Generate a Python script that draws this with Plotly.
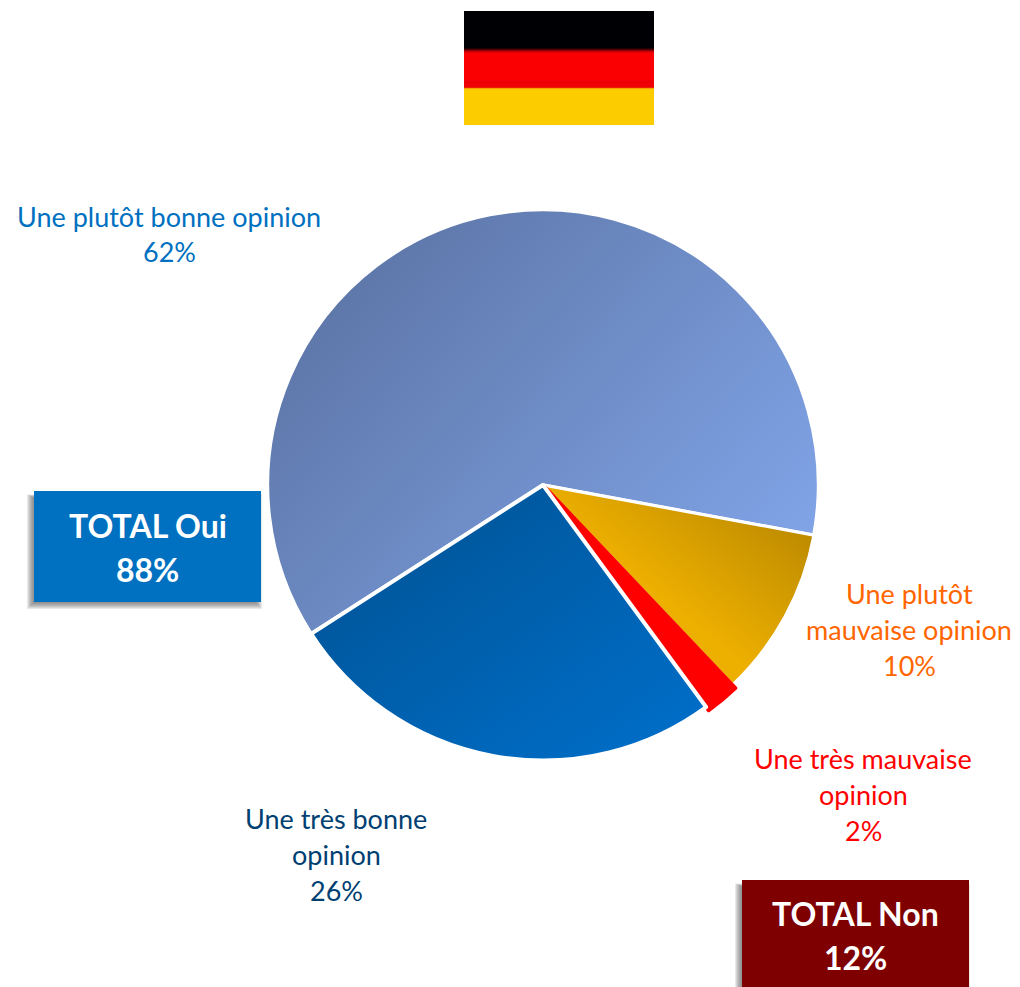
import plotly.graph_objects as go

W, H = 1020, 987
categories = ["Une plutôt bonne opinion", "Une plutôt mauvaise opinion", "Une très mauvaise opinion", "Une très bonne opinion"]
values = [62, 10, 2, 26]
colors = ["#6f8fcf", "#dca000", "#ff0000", "#0063b4"]
line_colors = ["#ffffff", "#ffffff", "#ff0000", "#ffffff"]
line_widths = [3.5, 3, 4, 4]
pulls = [0, 0, 0.015, 0]

label_lines = [
    ["Une plutôt bonne opinion", "62%"],
    ["Une plutôt", "mauvaise opinion", "10%"],
    ["Une très mauvaise", "opinion", "2%"],
    ["Une très bonne", "opinion", "26%"],
]
label_colors = ["#0070c0", "#ff6600", "#ff0000", "#003f72"]
label_x = [169, 909, 863, 336]
label_y = [216, 593, 758, 818]

box_lines = [["TOTAL Oui", "88%"], ["TOTAL Non", "12%"]]
box_colors = ["#0070c0", "#7f0000"]
box_rect = [(34, 491, 261, 602), (742, 880, 969, 1000)]
box_text_y = [525, 913]

FONT = "Lato, Carlito, Calibri, sans-serif"
CX, CY, R = 543, 485, 275.5
half = R * (1 + max(pulls))

def px(x): return x / W
def py(y): return 1 - y / H

fig = go.Figure(go.Pie(
    labels=categories, values=values, sort=False, direction="clockwise", rotation=237.3,
    pull=pulls, textinfo="none", hoverinfo="label+percent",
    marker=dict(colors=colors, line=dict(color=line_colors, width=line_widths)),
    domain=dict(x=[px(CX - half), px(CX + half)], y=[py(CY + half), py(CY - half)]),
    showlegend=False,
))

shapes, ann = [], []
def rect(x0, y0, x1, y1, color, opacity=1):
    shapes.append(dict(type="rect", xref="paper", yref="paper", x0=px(x0), x1=px(x1),
                       y0=py(y1), y1=py(y0), fillcolor=color, opacity=opacity, line_width=0))

def text(s, x, y, color, size, bold=False):
    ann.append(dict(text=f"<b>{s}</b>" if bold else s, x=px(x), y=py(y), xref="paper", yref="paper",
                    xanchor="center", yanchor="middle", showarrow=False,
                    font=dict(family=FONT, size=size, color=color)))

# Flag
flag_bands = [(11, 48, "#000004"), (48, 49, "#200000"), (49, 50, "#500004"), (50, 51, "#900006"),
              (51, 52, "#c00008"), (52, 53, "#e80006"), (53, 80, "#fb0002"), (80, 87, "#ee0006"),
              (87, 88, "#e82008"), (88, 89, "#f8a000"), (89, 125, "#fccb00")]
for y0, y1, c in flag_bands:
    rect(464, y0, 654, y1, c)

# Box shadows then boxes
for (x0, y0, x1, y1), c in zip(box_rect, box_colors):
    for i in range(7, 0, -1):
        rect(x0 - i, y0 + 7 - i * 0.5, x1 - 6 + i, y1 + i, "#555555", 0.13)
    rect(x0, y0, x1, y1, c)

for lines, c, x, y in zip(label_lines, label_colors, label_x, label_y):
    for i, s in enumerate(lines):
        text(s, x, y + 36 * i, c, 27)
for lines, (x0, _, x1, _), y in zip(box_lines, box_rect, box_text_y):
    for i, s in enumerate(lines):
        text(s, (x0 + x1) / 2, y + 44 * i, "#ffffff", 32, True)

fig.update_layout(width=W, height=H, margin=dict(l=0, r=0, t=0, b=0), paper_bgcolor="#ffffff",
                  shapes=shapes, annotations=ann)

post = """
document.documentElement.style.overflow='hidden';
document.body.style.margin='0';
var gd=document.getElementById('{plot_id}');
var grads=[['g0',['0','0.15','1','0.85'],'#5a72a2','#82a6ea'],
           ['g1',['1','0.1','0.45','0.6'],'#b58500','#eeb000'],
           ['g3',['0','0','1','1'],'#00508f','#0070cc']];
function paint(){
  var svg=gd.querySelector('svg.main-svg');
  var NS='http://www.w3.org/2000/svg';
  var defs=svg.querySelector('defs');
  grads.forEach(function(g){
    if(document.getElementById(g[0]))return;
    var lg=document.createElementNS(NS,'linearGradient');
    lg.setAttribute('id',g[0]);
    ['x1','y1','x2','y2'].forEach(function(a,i){lg.setAttribute(a,g[1][i]);});
    [[0,g[2]],[1,g[3]]].forEach(function(s){
      var st=document.createElementNS(NS,'stop');
      st.setAttribute('offset',s[0]);st.setAttribute('stop-color',s[1]);lg.appendChild(st);
    });
    defs.appendChild(lg);
  });
  var p=gd.querySelectorAll('g.slice path.surface');
  if(p.length>3){p[0].style.fill='url(#g0)';p[1].style.fill='url(#g1)';p[3].style.fill='url(#g3)';}
}
paint();
gd.on('plotly_afterplot',paint);
"""
fig.write_html("out.html", post_script=post, config=dict(displayModeBar=False))
